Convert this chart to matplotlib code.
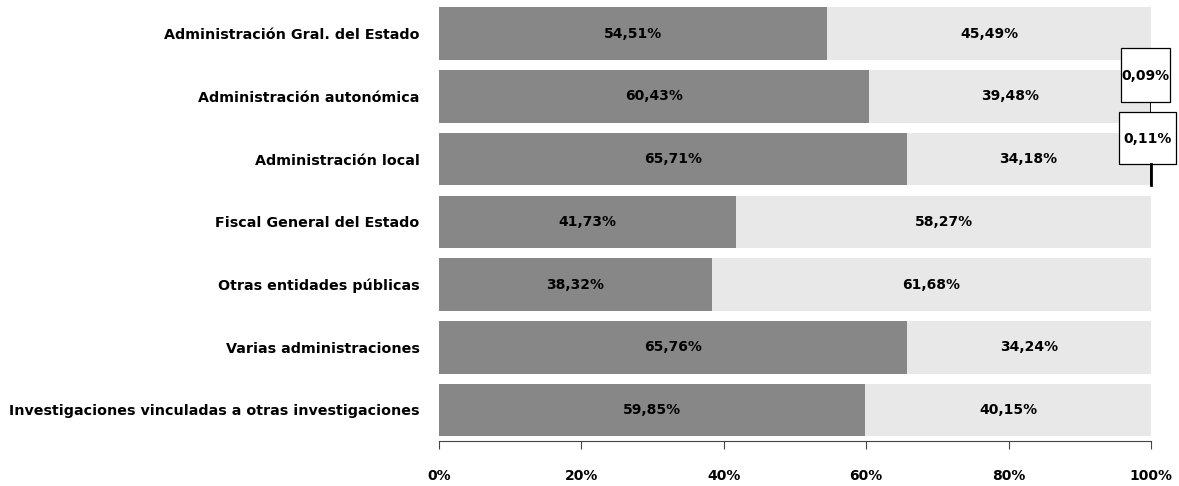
import matplotlib
matplotlib.use("Agg")
import matplotlib.pyplot as plt
from matplotlib.patches import Rectangle
import numpy as np

categories = [
    "Administración Gral. del Estado",
    "Administración autonómica",
    "Administración local",
    "Fiscal General del Estado",
    "Otras entidades públicas",
    "Varias administraciones",
    "Investigaciones vinculadas a otras investigaciones",
]
share_a = [54.51, 60.43, 65.71, 41.73, 38.32, 65.76, 59.85]
share_b = [45.49, 39.48, 34.18, 58.27, 61.68, 34.24, 40.15]
share_c = [0.0, 0.09, 0.11, 0.0, 0.0, 0.0, 0.0]
xticks = [0, 20, 40, 60, 80, 100]


def pct(v):
    return f"{v:.2f}%".replace(".", ",")


plt.rcParams["font.family"] = ["DejaVu Sans"]
plt.rcParams["font.weight"] = "bold"

fig = plt.figure(figsize=(11.79, 4.86), dpi=100)
ax = fig.add_axes([0.3723, 0.092, 0.604, 0.903])

y = np.arange(len(categories))
h = 0.84
ax.barh(y, share_a, height=h, color="#878787", zorder=2)
ax.barh(y, share_b, left=share_a, height=h, color="#e8e8e8", zorder=2)
left_c = [a + b for a, b in zip(share_a, share_b)]
ax.barh(y, share_c, left=left_c, height=h, color="#1a1a1a", zorder=2)

for i in range(len(categories)):
    ax.text(share_a[i] / 2, y[i], pct(share_a[i]), ha="center", va="center",
            fontsize=10, fontweight="bold", color="black")
    ax.text(share_a[i] + share_b[i] / 2, y[i], pct(share_b[i]), ha="center",
            va="center", fontsize=10, fontweight="bold", color="black")

# callout boxes for the tiny third segment (offsets in data units)
callouts = [
    # row, dx of box centre, dy of box centre, box width, box height, leader
    (1, -0.75, -0.34, 6.9, 0.86, False),
    (2, -0.45, -0.33, 7.9, 0.83, True),
]
for row, dx, dy, bw, bh, leader in callouts:
    xc = left_c[row] + share_c[row] / 2 + dx
    yc = y[row] + dy
    ax.add_patch(Rectangle((xc - bw / 2, yc - bh / 2), bw, bh, fc="white",
                           ec="black", lw=0.9, zorder=4, clip_on=False))
    ax.text(xc, yc + 0.01, pct(share_c[row]), ha="center", va="center",
            fontsize=10, fontweight="bold", zorder=5, clip_on=False)
    if leader:
        xl = left_c[row] + share_c[row] / 2
        ax.plot([xl, xl], [yc + bh / 2, y[row] + 0.42], color="black", lw=2,
                zorder=5, clip_on=False)

ax.set_xlim(0, 100)
ax.set_ylim(len(categories) - 0.5, -0.5)
ax.set_yticks(y)
ax.set_yticklabels(categories, fontsize=10.3, fontweight="bold")
ax.tick_params(axis="y", length=0, pad=14)
ax.set_xticks(xticks)
ax.set_xticklabels([f"{t}%" for t in xticks], fontsize=10, fontweight="bold")
ax.tick_params(axis="x", direction="out", length=6, width=0.8,
               color="#444444", pad=14)

for side in ["top", "right", "left"]:
    ax.spines[side].set_visible(False)
ax.spines["bottom"].set_color("#444444")
ax.spines["bottom"].set_linewidth(0.8)

fig.savefig("out.png", dpi=100)
